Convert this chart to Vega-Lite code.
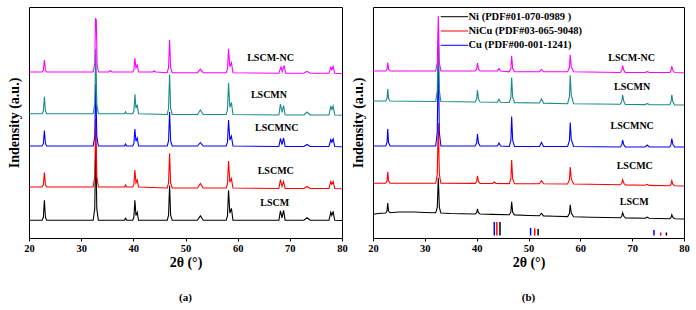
{
  "$schema": "https://vega.github.io/schema/vega-lite/v6.json",
  "padding": {"left": 6, "top": 6, "right": 0, "bottom": 0},
  "spacing": 31,
  "bounds": "flush",
  "config": {
    "view": {"stroke": "#000", "strokeWidth": 1},
    "font": "Liberation Serif",
    "axis": {"labelFont": "Liberation Serif", "titleFont": "Liberation Serif", "labelFontWeight": "bold", "titleFontWeight": "bold", "labelColor": "#000", "titleColor": "#000", "domainColor": "#000", "tickColor": "#000", "grid": false, "labelFontSize": 10.5, "titleFontSize": 14},
    "title": {"font": "Liberation Serif", "fontWeight": "bold", "fontSize": 11, "color": "#000"}
  },
  "datasets": {
    "pa": [
      {"s":"LSCM","x":20,"y":17.7},{"s":"LSCM","x":22.5,"y":17.7},{"s":"LSCM","x":22.75,"y":20.7},{"s":"LSCM","x":22.95,"y":37.7},{"s":"LSCM","x":23.15,"y":20.7},{"s":"LSCM","x":23.4,"y":17.7},{"s":"LSCM","x":32.3,"y":17.7},{"s":"LSCM","x":32.6,"y":29.1},{"s":"LSCM","x":32.8,"y":93.7},{"s":"LSCM","x":33.0,"y":29.1},{"s":"LSCM","x":33.3,"y":17.7},{"s":"LSCM","x":38.3,"y":17.7},{"s":"LSCM","x":38.5,"y":19.7},{"s":"LSCM","x":38.7,"y":17.7},{"s":"LSCM","x":39.9,"y":17.7},{"s":"LSCM","x":40.1,"y":20.7},{"s":"LSCM","x":40.3,"y":37.7},{"s":"LSCM","x":40.5,"y":22.5},{"s":"LSCM","x":40.75,"y":25.7},{"s":"LSCM","x":41.0,"y":17.7},{"s":"LSCM","x":46.5,"y":17.7},{"s":"LSCM","x":46.75,"y":22.9},{"s":"LSCM","x":46.95,"y":52.2},{"s":"LSCM","x":47.15,"y":22.9},{"s":"LSCM","x":47.45,"y":17.7},{"s":"LSCM","x":52.3,"y":17.7},{"s":"LSCM","x":52.85,"y":22.2},{"s":"LSCM","x":53.4,"y":17.7},{"s":"LSCM","x":57.8,"y":17.7},{"s":"LSCM","x":58.05,"y":22.2},{"s":"LSCM","x":58.25,"y":47.7},{"s":"LSCM","x":58.5,"y":24.9},{"s":"LSCM","x":58.8,"y":29.7},{"s":"LSCM","x":59.1,"y":17.7},{"s":"LSCM","x":67.9,"y":17.7},{"s":"LSCM","x":68.2,"y":27.2},{"s":"LSCM","x":68.5,"y":20.1},{"s":"LSCM","x":68.8,"y":27.7},{"s":"LSCM","x":69.1,"y":17.7},{"s":"LSCM","x":72.7,"y":17.7},{"s":"LSCM","x":73.3,"y":20.2},{"s":"LSCM","x":73.9,"y":17.7},{"s":"LSCM","x":77.5,"y":17.7},{"s":"LSCM","x":77.85,"y":25.7},{"s":"LSCM","x":78.05,"y":22.5},{"s":"LSCM","x":78.3,"y":26.7},{"s":"LSCM","x":78.6,"y":17.7},{"s":"LSCM","x":80,"y":17.5},
      {"s":"LSCMC","x":20,"y":51},{"s":"LSCMC","x":22.5,"y":51},{"s":"LSCMC","x":22.75,"y":53.2},{"s":"LSCMC","x":22.95,"y":65.5},{"s":"LSCMC","x":23.15,"y":53.2},{"s":"LSCMC","x":23.4,"y":51},{"s":"LSCMC","x":32.3,"y":51},{"s":"LSCMC","x":32.6,"y":61.2},{"s":"LSCMC","x":32.8,"y":119},{"s":"LSCMC","x":33.0,"y":61.2},{"s":"LSCMC","x":33.3,"y":51},{"s":"LSCMC","x":38.3,"y":51},{"s":"LSCMC","x":38.5,"y":53},{"s":"LSCMC","x":38.7,"y":51},{"s":"LSCMC","x":39.9,"y":51},{"s":"LSCMC","x":40.1,"y":53.6},{"s":"LSCMC","x":40.3,"y":68},{"s":"LSCMC","x":40.5,"y":55.2},{"s":"LSCMC","x":40.75,"y":58},{"s":"LSCMC","x":41.0,"y":51},{"s":"LSCMC","x":46.5,"y":50},{"s":"LSCMC","x":46.75,"y":55.2},{"s":"LSCMC","x":46.95,"y":84.5},{"s":"LSCMC","x":47.15,"y":55.2},{"s":"LSCMC","x":47.45,"y":50},{"s":"LSCMC","x":52.3,"y":50},{"s":"LSCMC","x":52.85,"y":54.5},{"s":"LSCMC","x":53.4,"y":50},{"s":"LSCMC","x":57.8,"y":50},{"s":"LSCMC","x":58.05,"y":54},{"s":"LSCMC","x":58.25,"y":77},{"s":"LSCMC","x":58.5,"y":55.7},{"s":"LSCMC","x":58.8,"y":59.5},{"s":"LSCMC","x":59.1,"y":50},{"s":"LSCMC","x":67.9,"y":49.5},{"s":"LSCMC","x":68.2,"y":58.5},{"s":"LSCMC","x":68.5,"y":51.5},{"s":"LSCMC","x":68.8,"y":56.5},{"s":"LSCMC","x":69.1,"y":49.5},{"s":"LSCMC","x":72.7,"y":49.5},{"s":"LSCMC","x":73.3,"y":51.5},{"s":"LSCMC","x":73.9,"y":49.5},{"s":"LSCMC","x":77.5,"y":49.5},{"s":"LSCMC","x":77.85,"y":56.5},{"s":"LSCMC","x":78.05,"y":53.7},{"s":"LSCMC","x":78.3,"y":56.5},{"s":"LSCMC","x":78.6,"y":49.5},{"s":"LSCMC","x":80,"y":49.3},
      {"s":"LSCMNC","x":20,"y":92},{"s":"LSCMNC","x":22.5,"y":92},{"s":"LSCMNC","x":22.75,"y":94.3},{"s":"LSCMNC","x":22.95,"y":107.5},{"s":"LSCMNC","x":23.15,"y":94.3},{"s":"LSCMNC","x":23.4,"y":92},{"s":"LSCMNC","x":32.3,"y":92},{"s":"LSCMNC","x":32.6,"y":101.3},{"s":"LSCMNC","x":32.8,"y":154},{"s":"LSCMNC","x":33.0,"y":101.3},{"s":"LSCMNC","x":33.3,"y":92},{"s":"LSCMNC","x":38.3,"y":92},{"s":"LSCMNC","x":38.5,"y":94},{"s":"LSCMNC","x":38.7,"y":92},{"s":"LSCMNC","x":39.9,"y":92},{"s":"LSCMNC","x":40.1,"y":94.6},{"s":"LSCMNC","x":40.3,"y":109},{"s":"LSCMNC","x":40.5,"y":96.8},{"s":"LSCMNC","x":40.75,"y":100},{"s":"LSCMNC","x":41.0,"y":92},{"s":"LSCMNC","x":46.5,"y":92},{"s":"LSCMNC","x":46.75,"y":97.1},{"s":"LSCMNC","x":46.95,"y":126},{"s":"LSCMNC","x":47.15,"y":97.1},{"s":"LSCMNC","x":47.45,"y":92},{"s":"LSCMNC","x":52.3,"y":92},{"s":"LSCMNC","x":52.85,"y":95.5},{"s":"LSCMNC","x":53.4,"y":92},{"s":"LSCMNC","x":57.8,"y":92},{"s":"LSCMNC","x":58.05,"y":95.9},{"s":"LSCMNC","x":58.25,"y":118},{"s":"LSCMNC","x":58.5,"y":98},{"s":"LSCMNC","x":58.8,"y":102},{"s":"LSCMNC","x":59.1,"y":92},{"s":"LSCMNC","x":67.9,"y":91.5},{"s":"LSCMNC","x":68.2,"y":99.5},{"s":"LSCMNC","x":68.5,"y":93.5},{"s":"LSCMNC","x":68.8,"y":100},{"s":"LSCMNC","x":69.1,"y":91.5},{"s":"LSCMNC","x":72.7,"y":91.5},{"s":"LSCMNC","x":73.3,"y":93.5},{"s":"LSCMNC","x":73.9,"y":91.5},{"s":"LSCMNC","x":77.5,"y":91.5},{"s":"LSCMNC","x":77.85,"y":98.5},{"s":"LSCMNC","x":78.05,"y":95.7},{"s":"LSCMNC","x":78.3,"y":99},{"s":"LSCMNC","x":78.6,"y":91.5},{"s":"LSCMNC","x":80,"y":91.3},
      {"s":"LSCMN","x":20,"y":124.3},{"s":"LSCMN","x":22.5,"y":124.3},{"s":"LSCMN","x":22.75,"y":126.9},{"s":"LSCMN","x":22.95,"y":141.3},{"s":"LSCMN","x":23.15,"y":126.9},{"s":"LSCMN","x":23.4,"y":124.3},{"s":"LSCMN","x":32.3,"y":124.3},{"s":"LSCMN","x":32.6,"y":134},{"s":"LSCMN","x":32.8,"y":189.3},{"s":"LSCMN","x":33.0,"y":134},{"s":"LSCMN","x":33.3,"y":124.3},{"s":"LSCMN","x":38.3,"y":124.3},{"s":"LSCMN","x":38.5,"y":126.3},{"s":"LSCMN","x":38.7,"y":124.3},{"s":"LSCMN","x":39.9,"y":124.3},{"s":"LSCMN","x":40.1,"y":127.2},{"s":"LSCMN","x":40.3,"y":143.8},{"s":"LSCMN","x":40.5,"y":129.7},{"s":"LSCMN","x":40.75,"y":133.3},{"s":"LSCMN","x":41.0,"y":124.3},{"s":"LSCMN","x":46.5,"y":123.5},{"s":"LSCMN","x":46.75,"y":129.5},{"s":"LSCMN","x":46.95,"y":163.5},{"s":"LSCMN","x":47.15,"y":129.5},{"s":"LSCMN","x":47.45,"y":123.5},{"s":"LSCMN","x":52.3,"y":123.5},{"s":"LSCMN","x":52.85,"y":128},{"s":"LSCMN","x":53.4,"y":123.5},{"s":"LSCMN","x":57.8,"y":123.5},{"s":"LSCMN","x":58.05,"y":128.2},{"s":"LSCMN","x":58.25,"y":155},{"s":"LSCMN","x":58.5,"y":130.7},{"s":"LSCMN","x":58.8,"y":135.5},{"s":"LSCMN","x":59.1,"y":123.5},{"s":"LSCMN","x":67.9,"y":123},{"s":"LSCMN","x":68.2,"y":134},{"s":"LSCMN","x":68.5,"y":125.5},{"s":"LSCMN","x":68.8,"y":132.5},{"s":"LSCMN","x":69.1,"y":123},{"s":"LSCMN","x":72.7,"y":123},{"s":"LSCMN","x":73.3,"y":126},{"s":"LSCMN","x":73.9,"y":123},{"s":"LSCMN","x":77.5,"y":123},{"s":"LSCMN","x":77.85,"y":132},{"s":"LSCMN","x":78.05,"y":128.4},{"s":"LSCMN","x":78.3,"y":132},{"s":"LSCMN","x":78.6,"y":123},{"s":"LSCMN","x":80,"y":122.7},
      {"s":"LSCM-NC","x":20,"y":166},{"s":"LSCM-NC","x":22.5,"y":166},{"s":"LSCM-NC","x":22.75,"y":167.8},{"s":"LSCM-NC","x":22.95,"y":178},{"s":"LSCM-NC","x":23.15,"y":167.8},{"s":"LSCM-NC","x":23.4,"y":166},{"s":"LSCM-NC","x":32.3,"y":166},{"s":"LSCM-NC","x":32.6,"y":174.1},{"s":"LSCM-NC","x":32.75,"y":220},{"s":"LSCM-NC","x":32.82,"y":214},{"s":"LSCM-NC","x":32.9,"y":219},{"s":"LSCM-NC","x":33.05,"y":174},{"s":"LSCM-NC","x":33.3,"y":166},{"s":"LSCM-NC","x":35.3,"y":166},{"s":"LSCM-NC","x":35.6,"y":167.5},{"s":"LSCM-NC","x":35.9,"y":166},{"s":"LSCM-NC","x":39.9,"y":166},{"s":"LSCM-NC","x":40.1,"y":168.1},{"s":"LSCM-NC","x":40.3,"y":180},{"s":"LSCM-NC","x":40.5,"y":170.2},{"s":"LSCM-NC","x":40.75,"y":173},{"s":"LSCM-NC","x":41.0,"y":166},{"s":"LSCM-NC","x":43.7,"y":166},{"s":"LSCM-NC","x":44.0,"y":167},{"s":"LSCM-NC","x":44.3,"y":166},{"s":"LSCM-NC","x":46.5,"y":165.3},{"s":"LSCM-NC","x":46.75,"y":170.3},{"s":"LSCM-NC","x":46.95,"y":198.3},{"s":"LSCM-NC","x":47.15,"y":170.3},{"s":"LSCM-NC","x":47.45,"y":165.3},{"s":"LSCM-NC","x":52.3,"y":165.3},{"s":"LSCM-NC","x":52.85,"y":168.8},{"s":"LSCM-NC","x":53.4,"y":165.3},{"s":"LSCM-NC","x":57.8,"y":165.3},{"s":"LSCM-NC","x":58.05,"y":168.9},{"s":"LSCM-NC","x":58.25,"y":189.3},{"s":"LSCM-NC","x":58.5,"y":171.3},{"s":"LSCM-NC","x":58.8,"y":175.3},{"s":"LSCM-NC","x":59.1,"y":165.3},{"s":"LSCM-NC","x":67.9,"y":164.7},{"s":"LSCM-NC","x":68.3,"y":171.2},{"s":"LSCM-NC","x":68.55,"y":166.5},{"s":"LSCM-NC","x":68.9,"y":172.7},{"s":"LSCM-NC","x":69.2,"y":164.7},{"s":"LSCM-NC","x":72.7,"y":164.7},{"s":"LSCM-NC","x":73.3,"y":166.7},{"s":"LSCM-NC","x":73.9,"y":164.7},{"s":"LSCM-NC","x":77.5,"y":164.7},{"s":"LSCM-NC","x":77.85,"y":170.7},{"s":"LSCM-NC","x":78.05,"y":168.3},{"s":"LSCM-NC","x":78.3,"y":171.7},{"s":"LSCM-NC","x":78.6,"y":164.7},{"s":"LSCM-NC","x":80,"y":164.3}
    ],
    "pb": [
      {"s":"LSCM","x":20,"y":23.7},{"s":"LSCM","x":21,"y":24.5},{"s":"LSCM","x":22.45,"y":25},{"s":"LSCM","x":22.7,"y":27},{"s":"LSCM","x":22.85,"y":35},{"s":"LSCM","x":23.0,"y":27},{"s":"LSCM","x":23.3,"y":25.2},{"s":"LSCM","x":25,"y":26},{"s":"LSCM","x":28,"y":26},{"s":"LSCM","x":30,"y":25.5},{"s":"LSCM","x":32.1,"y":25.2},{"s":"LSCM","x":32.4,"y":30.5},{"s":"LSCM","x":32.6,"y":60.2},{"s":"LSCM","x":32.8,"y":30.5},{"s":"LSCM","x":33.1,"y":25},{"s":"LSCM","x":35,"y":24.5},{"s":"LSCM","x":37,"y":24.3},{"s":"LSCM","x":39.7,"y":24},{"s":"LSCM","x":40.0,"y":25.2},{"s":"LSCM","x":40.15,"y":29},{"s":"LSCM","x":40.35,"y":25.2},{"s":"LSCM","x":40.65,"y":24},{"s":"LSCM","x":43,"y":23.6},{"s":"LSCM","x":46.3,"y":23.2},{"s":"LSCM","x":46.6,"y":25.8},{"s":"LSCM","x":46.75,"y":36.2},{"s":"LSCM","x":46.95,"y":25.8},{"s":"LSCM","x":47.3,"y":23.1},{"s":"LSCM","x":50,"y":22.5},{"s":"LSCM","x":52.1,"y":22.2},{"s":"LSCM","x":52.5,"y":24.6},{"s":"LSCM","x":52.9,"y":22.1},{"s":"LSCM","x":55,"y":21.8},{"s":"LSCM","x":57.55,"y":21.4},{"s":"LSCM","x":57.9,"y":24.4},{"s":"LSCM","x":58.05,"y":33.3},{"s":"LSCM","x":58.25,"y":24.9},{"s":"LSCM","x":58.7,"y":21.2},{"s":"LSCM","x":62,"y":20.8},{"s":"LSCM","x":65,"y":20.5},{"s":"LSCM","x":67.7,"y":20.2},{"s":"LSCM","x":68.0,"y":21.7},{"s":"LSCM","x":68.15,"y":25.2},{"s":"LSCM","x":68.4,"y":21.7},{"s":"LSCM","x":68.7,"y":20.1},{"s":"LSCM","x":72.5,"y":19.8},{"s":"LSCM","x":72.9,"y":20.8},{"s":"LSCM","x":73.3,"y":19.7},{"s":"LSCM","x":75,"y":19.5},{"s":"LSCM","x":77.25,"y":19.3},{"s":"LSCM","x":77.5,"y":20.5},{"s":"LSCM","x":77.65,"y":23.3},{"s":"LSCM","x":77.85,"y":20.5},{"s":"LSCM","x":78.2,"y":19.2},{"s":"LSCM","x":80,"y":19},
      {"s":"LSCMC","x":20,"y":54.7},{"s":"LSCMC","x":22.45,"y":54.7},{"s":"LSCMC","x":22.7,"y":57},{"s":"LSCMC","x":22.85,"y":66.2},{"s":"LSCMC","x":23.0,"y":57},{"s":"LSCMC","x":23.3,"y":54.7},{"s":"LSCMC","x":32.1,"y":54.7},{"s":"LSCMC","x":32.4,"y":63.7},{"s":"LSCMC","x":32.6,"y":114.7},{"s":"LSCMC","x":32.8,"y":63.7},{"s":"LSCMC","x":33.1,"y":54.7},{"s":"LSCMC","x":39.7,"y":54.6},{"s":"LSCMC","x":40.0,"y":56.5},{"s":"LSCMC","x":40.15,"y":62.1},{"s":"LSCMC","x":40.35,"y":56.5},{"s":"LSCMC","x":40.65,"y":54.6},{"s":"LSCMC","x":43.1,"y":54.5},{"s":"LSCMC","x":43.4,"y":56},{"s":"LSCMC","x":43.7,"y":54.5},{"s":"LSCMC","x":46.3,"y":54.4},{"s":"LSCMC","x":46.6,"y":59.1},{"s":"LSCMC","x":46.75,"y":77.9},{"s":"LSCMC","x":46.95,"y":59.1},{"s":"LSCMC","x":47.3,"y":54.4},{"s":"LSCMC","x":52.1,"y":54.2},{"s":"LSCMC","x":52.5,"y":57.2},{"s":"LSCMC","x":52.9,"y":54.2},{"s":"LSCMC","x":57.55,"y":54},{"s":"LSCMC","x":57.9,"y":58.3},{"s":"LSCMC","x":58.05,"y":71},{"s":"LSCMC","x":58.25,"y":59.1},{"s":"LSCMC","x":58.7,"y":54},{"s":"LSCMC","x":67.7,"y":53.2},{"s":"LSCMC","x":68.0,"y":54.7},{"s":"LSCMC","x":68.15,"y":58.2},{"s":"LSCMC","x":68.4,"y":54.7},{"s":"LSCMC","x":68.7,"y":53.1},{"s":"LSCMC","x":72.5,"y":52.7},{"s":"LSCMC","x":72.9,"y":53.7},{"s":"LSCMC","x":73.3,"y":52.6},{"s":"LSCMC","x":77.25,"y":52.3},{"s":"LSCMC","x":77.5,"y":53.8},{"s":"LSCMC","x":77.65,"y":57.3},{"s":"LSCMC","x":77.85,"y":53.8},{"s":"LSCMC","x":78.2,"y":52.2},{"s":"LSCMC","x":80,"y":52},
      {"s":"LSCMNC","x":20,"y":92},{"s":"LSCMNC","x":22.45,"y":92},{"s":"LSCMNC","x":22.7,"y":95.4},{"s":"LSCMNC","x":22.85,"y":109},{"s":"LSCMNC","x":23.0,"y":95.4},{"s":"LSCMNC","x":23.3,"y":92},{"s":"LSCMNC","x":32.1,"y":92},{"s":"LSCMNC","x":32.4,"y":105.8},{"s":"LSCMNC","x":32.6,"y":184},{"s":"LSCMNC","x":32.8,"y":105.8},{"s":"LSCMNC","x":33.1,"y":92},{"s":"LSCMNC","x":39.7,"y":92},{"s":"LSCMNC","x":40.0,"y":95},{"s":"LSCMNC","x":40.15,"y":104},{"s":"LSCMNC","x":40.35,"y":95},{"s":"LSCMNC","x":40.65,"y":92},{"s":"LSCMNC","x":44.0,"y":92},{"s":"LSCMNC","x":44.3,"y":95},{"s":"LSCMNC","x":44.6,"y":92},{"s":"LSCMNC","x":46.3,"y":91.5},{"s":"LSCMNC","x":46.6,"y":97.5},{"s":"LSCMNC","x":46.75,"y":121.5},{"s":"LSCMNC","x":46.95,"y":97.5},{"s":"LSCMNC","x":47.3,"y":91.5},{"s":"LSCMNC","x":52.1,"y":91.5},{"s":"LSCMNC","x":52.5,"y":95.5},{"s":"LSCMNC","x":52.9,"y":91.5},{"s":"LSCMNC","x":57.55,"y":91.5},{"s":"LSCMNC","x":57.9,"y":97.5},{"s":"LSCMNC","x":58.05,"y":115.5},{"s":"LSCMNC","x":58.25,"y":98.7},{"s":"LSCMNC","x":58.7,"y":91.5},{"s":"LSCMNC","x":67.7,"y":91},{"s":"LSCMNC","x":68.0,"y":93.1},{"s":"LSCMNC","x":68.15,"y":98},{"s":"LSCMNC","x":68.4,"y":93.1},{"s":"LSCMNC","x":68.7,"y":91},{"s":"LSCMNC","x":72.5,"y":91},{"s":"LSCMNC","x":72.9,"y":93},{"s":"LSCMNC","x":73.3,"y":91},{"s":"LSCMNC","x":77.25,"y":91},{"s":"LSCMNC","x":77.5,"y":93.6},{"s":"LSCMNC","x":77.65,"y":99.5},{"s":"LSCMNC","x":77.85,"y":93.6},{"s":"LSCMNC","x":78.2,"y":91},{"s":"LSCMNC","x":80,"y":91},
      {"s":"LSCMN","x":20,"y":137},{"s":"LSCMN","x":22.45,"y":137},{"s":"LSCMN","x":22.7,"y":139.4},{"s":"LSCMN","x":22.85,"y":149},{"s":"LSCMN","x":23.0,"y":139.4},{"s":"LSCMN","x":23.3,"y":137},{"s":"LSCMN","x":32.1,"y":136.5},{"s":"LSCMN","x":32.4,"y":147},{"s":"LSCMN","x":32.6,"y":206.5},{"s":"LSCMN","x":32.8,"y":147},{"s":"LSCMN","x":33.1,"y":136.5},{"s":"LSCMN","x":39.7,"y":136},{"s":"LSCMN","x":40.0,"y":139},{"s":"LSCMN","x":40.15,"y":148},{"s":"LSCMN","x":40.35,"y":139},{"s":"LSCMN","x":40.65,"y":136},{"s":"LSCMN","x":44.0,"y":135.8},{"s":"LSCMN","x":44.3,"y":138.8},{"s":"LSCMN","x":44.6,"y":135.7},{"s":"LSCMN","x":46.3,"y":135.5},{"s":"LSCMN","x":46.6,"y":140.5},{"s":"LSCMN","x":46.75,"y":160.5},{"s":"LSCMN","x":46.95,"y":140.5},{"s":"LSCMN","x":47.3,"y":135.4},{"s":"LSCMN","x":52.1,"y":135},{"s":"LSCMN","x":52.5,"y":139},{"s":"LSCMN","x":52.9,"y":134.9},{"s":"LSCMN","x":57.55,"y":134.3},{"s":"LSCMN","x":57.9,"y":141.4},{"s":"LSCMN","x":58.05,"y":162.8},{"s":"LSCMN","x":58.25,"y":142.9},{"s":"LSCMN","x":58.7,"y":134.2},{"s":"LSCMN","x":67.7,"y":133.7},{"s":"LSCMN","x":68.0,"y":136.5},{"s":"LSCMN","x":68.15,"y":143.2},{"s":"LSCMN","x":68.4,"y":136.5},{"s":"LSCMN","x":68.7,"y":133.6},{"s":"LSCMN","x":72.5,"y":133.4},{"s":"LSCMN","x":72.9,"y":134.4},{"s":"LSCMN","x":73.3,"y":133.4},{"s":"LSCMN","x":77.25,"y":133.2},{"s":"LSCMN","x":77.5,"y":136.2},{"s":"LSCMN","x":77.65,"y":143.2},{"s":"LSCMN","x":77.85,"y":136.2},{"s":"LSCMN","x":78.2,"y":133.1},{"s":"LSCMN","x":80,"y":133},
      {"s":"LSCM-NC","x":20,"y":167},{"s":"LSCM-NC","x":22.45,"y":167},{"s":"LSCM-NC","x":22.7,"y":168.7},{"s":"LSCM-NC","x":22.85,"y":175.5},{"s":"LSCM-NC","x":23.0,"y":168.7},{"s":"LSCM-NC","x":23.3,"y":167},{"s":"LSCM-NC","x":32.1,"y":167},{"s":"LSCM-NC","x":32.4,"y":175.3},{"s":"LSCM-NC","x":32.6,"y":222},{"s":"LSCM-NC","x":32.8,"y":175.3},{"s":"LSCM-NC","x":33.1,"y":167},{"s":"LSCM-NC","x":39.7,"y":167},{"s":"LSCM-NC","x":40.0,"y":169},{"s":"LSCM-NC","x":40.15,"y":175},{"s":"LSCM-NC","x":40.35,"y":169},{"s":"LSCM-NC","x":40.65,"y":167},{"s":"LSCM-NC","x":44.0,"y":167},{"s":"LSCM-NC","x":44.3,"y":169.5},{"s":"LSCM-NC","x":44.6,"y":167},{"s":"LSCM-NC","x":46.3,"y":166.2},{"s":"LSCM-NC","x":46.6,"y":169.4},{"s":"LSCM-NC","x":46.75,"y":182.2},{"s":"LSCM-NC","x":46.95,"y":169.4},{"s":"LSCM-NC","x":47.3,"y":166.2},{"s":"LSCM-NC","x":52.1,"y":166.2},{"s":"LSCM-NC","x":52.5,"y":168.7},{"s":"LSCM-NC","x":52.9,"y":166.2},{"s":"LSCM-NC","x":57.55,"y":166.2},{"s":"LSCM-NC","x":57.9,"y":170.5},{"s":"LSCM-NC","x":58.05,"y":183.2},{"s":"LSCM-NC","x":58.25,"y":171.3},{"s":"LSCM-NC","x":58.7,"y":166.2},{"s":"LSCM-NC","x":67.7,"y":165.5},{"s":"LSCM-NC","x":68.0,"y":167.6},{"s":"LSCM-NC","x":68.15,"y":172.5},{"s":"LSCM-NC","x":68.4,"y":167.6},{"s":"LSCM-NC","x":68.7,"y":165.5},{"s":"LSCM-NC","x":72.5,"y":165.5},{"s":"LSCM-NC","x":72.9,"y":166.5},{"s":"LSCM-NC","x":73.3,"y":165.5},{"s":"LSCM-NC","x":77.25,"y":165.5},{"s":"LSCM-NC","x":77.5,"y":167.5},{"s":"LSCM-NC","x":77.65,"y":172},{"s":"LSCM-NC","x":77.85,"y":167.5},{"s":"LSCM-NC","x":78.2,"y":165.5},{"s":"LSCM-NC","x":80,"y":165.3}
    ],
    "la": [
      {"label":"LSCM-NC","x":66.3,"y":180},
      {"label":"LSCMN","x":66.0,"y":142.7},
      {"label":"LSCMNC","x":67.5,"y":109.7},
      {"label":"LSCMC","x":67.3,"y":67},
      {"label":"LSCM","x":67.1,"y":35}
    ],
    "lb": [
      {"label":"LSCM-NC","x":69.9,"y":180.3},
      {"label":"LSCMN","x":70.0,"y":151},
      {"label":"LSCMNC","x":70.0,"y":112},
      {"label":"LSCMC","x":70.5,"y":72},
      {"label":"LSCM","x":70.4,"y":36.3}
    ],
    "ref": [
      {"phase":"Ni (PDF#01-070-0989 )","x":44.5,"h":16},
      {"phase":"Ni (PDF#01-070-0989 )","x":51.85,"h":9},
      {"phase":"Ni (PDF#01-070-0989 )","x":76.6,"h":5.5},
      {"phase":"NiCu (PDF#03-065-9048)","x":43.9,"h":16},
      {"phase":"NiCu (PDF#03-065-9048)","x":51.2,"h":9.5},
      {"phase":"NiCu (PDF#03-065-9048)","x":75.5,"h":5.5},
      {"phase":"Cu (PDF#00-001-1241)","x":43.4,"h":16},
      {"phase":"Cu (PDF#00-001-1241)","x":50.4,"h":10},
      {"phase":"Cu (PDF#00-001-1241)","x":74.2,"h":8}
    ],
    "key": [
      {"phase":"Ni (PDF#01-070-0989 )","x":33.06,"x2":38.33,"y":221.3},
      {"phase":"NiCu (PDF#03-065-9048)","x":33.06,"x2":38.33,"y":207},
      {"phase":"Cu (PDF#00-001-1241)","x":33.06,"x2":38.33,"y":192.7}
    ]
  },
  "hconcat": [
    {
      "width": 313,
      "height": 231,
      "title": {"text": "(a)", "orient": "bottom", "offset": 22, "frame": "group"},
      "layer": [
        {
          "data": {"name": "pa"},
          "mark": {"type": "line", "strokeWidth": 1.1},
          "encoding": {
            "x": {"field": "x", "type": "quantitative", "scale": {"domain": [20, 80], "nice": false, "zero": false},
              "axis": {"title": "2θ (°)", "values": [20,25,30,35,40,45,50,55,60,65,70,75,80], "labelExpr": "datum.value % 10 === 0 ? datum.label : ''", "tickSize": 3, "labelPadding": 2, "titlePadding": 2, "labelFlush": false, "labelOverlap": false}},
            "y": {"field": "y", "type": "quantitative", "scale": {"domain": [0, 231], "nice": false},
              "axis": {"title": "Indensity (a.u.)", "labels": false, "ticks": false, "domain": false, "titlePadding": 8}},
            "color": {"field": "s", "type": "nominal", "scale": {"domain": ["LSCM","LSCMC","LSCMNC","LSCMN","LSCM-NC"], "range": ["#000000","#ff0000","#0000ff","#1a8a8a","#ff00ff"]}, "legend": null}
          }
        },
        {
          "data": {"name": "la"},
          "mark": {"type": "text", "font": "Liberation Serif", "fontWeight": "bold", "fontSize": 10, "color": "#000", "baseline": "middle"},
          "encoding": {
            "x": {"field": "x", "type": "quantitative"},
            "y": {"field": "y", "type": "quantitative"},
            "text": {"field": "label"}
          }
        }
      ]
    },
    {
      "width": 311,
      "height": 231,
      "title": {"text": "(b)", "orient": "bottom", "offset": 22, "frame": "group"},
      "layer": [
        {
          "data": {"name": "pb"},
          "mark": {"type": "line", "strokeWidth": 1.1},
          "encoding": {
            "x": {"field": "x", "type": "quantitative", "scale": {"domain": [20, 80], "nice": false, "zero": false},
              "axis": {"title": "2θ (°)", "values": [20,25,30,35,40,45,50,55,60,65,70,75,80], "labelExpr": "datum.value % 10 === 0 ? datum.label : ''", "tickSize": 3, "labelPadding": 2, "titlePadding": 2, "labelFlush": false, "labelOverlap": false}},
            "y": {"field": "y", "type": "quantitative", "scale": {"domain": [0, 231], "nice": false},
              "axis": {"title": "Indensity (a.u.)", "labels": false, "ticks": false, "domain": false, "titlePadding": 8}},
            "color": {"field": "s", "type": "nominal", "scale": {"domain": ["LSCM","LSCMC","LSCMNC","LSCMN","LSCM-NC"], "range": ["#000000","#ff0000","#0000ff","#1a8a8a","#ff00ff"]}, "legend": null}
          }
        },
        {
          "data": {"name": "ref"},
          "mark": {"type": "rule", "strokeWidth": 1.5},
          "encoding": {
            "x": {"field": "x", "type": "quantitative"},
            "y": {"field": "h", "type": "quantitative"},
            "y2": {"datum": 2.5},
            "color": {"field": "phase", "type": "nominal",
              "scale": {"domain": ["Ni (PDF#01-070-0989 )","NiCu (PDF#03-065-9048)","Cu (PDF#00-001-1241)"], "range": ["#000000","#ff0000","#0000ff"]},
              "legend": null}
          }
        },
        {
          "data": {"name": "key"},
          "mark": {"type": "rule", "strokeWidth": 1},
          "encoding": {
            "x": {"field": "x", "type": "quantitative"},
            "x2": {"field": "x2"},
            "y": {"field": "y", "type": "quantitative"},
            "color": {"field": "phase", "type": "nominal",
              "scale": {"domain": ["Ni (PDF#01-070-0989 )","NiCu (PDF#03-065-9048)","Cu (PDF#00-001-1241)"], "range": ["#000000","#ff0000","#0000ff"]},
              "legend": null}
          }
        },
        {
          "data": {"name": "key"},
          "mark": {"type": "text", "font": "Liberation Serif", "fontWeight": "bold", "fontSize": 10.5, "color": "#000", "align": "left", "baseline": "middle", "dx": 0.5},
          "encoding": {
            "x": {"field": "x2", "type": "quantitative"},
            "y": {"field": "y", "type": "quantitative"},
            "text": {"field": "phase"}
          }
        },
        {
          "data": {"name": "lb"},
          "mark": {"type": "text", "font": "Liberation Serif", "fontWeight": "bold", "fontSize": 10, "color": "#000", "baseline": "middle"},
          "encoding": {
            "x": {"field": "x", "type": "quantitative"},
            "y": {"field": "y", "type": "quantitative"},
            "text": {"field": "label"}
          }
        }
      ],
      "resolve": {"scale": {"color": "independent"}}
    }
  ]
}
